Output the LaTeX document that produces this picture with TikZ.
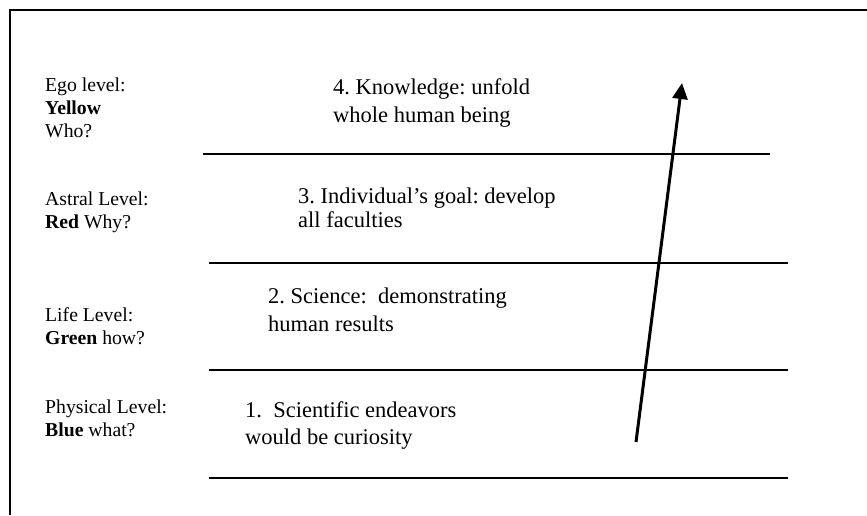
\documentclass[tikz,border=0pt]{standalone}
\usepackage{fontspec}
\setmainfont{Liberation Serif}
\usetikzlibrary{arrows.meta}
\frenchspacing
\begin{document}
\begin{tikzpicture}[x=1pt,y=-1pt,
  levellabel/.style={anchor=base west,inner sep=0pt,align=left,
    font=\fontsize{19.7}{22.7}\selectfont},
  stagetext/.style={anchor=base west,inner sep=0pt,align=left,
    font=\fontsize{22.5}{28}\selectfont},
  divider/.style={line width=2pt},
  frameline/.style={line width=2pt},
  growth/.style={line width=3pt,-{Triangle[length=16pt,width=15pt]}}]
  \useasboundingbox (0,0) rectangle (867,515);

  % open frame: top and left edges
  \draw[frameline] (10,515) -- (10,10) -- (867,10);

  % dividers between levels
  \draw[divider] (203,154) -- (770,154);
  \draw[divider] (209,263) -- (788,263);
  \draw[divider] (209,370) -- (788,370);
  \draw[divider] (209,478) -- (788,478);

  % level labels (anchored at the baseline of their last line)
  \node[levellabel] (ego) at (45,137) {Ego level:\\\textbf{Yellow}\\Who?};
  \node[levellabel] (astral) at (45,228) {Astral Level:\\\textbf{Red} Why?};
  \node[levellabel] (life) at (45,344) {Life Level:\\\textbf{Green} how?};
  \node[levellabel] (physical) at (45,436) {Physical Level:\\\textbf{Blue} what?};

  % stage descriptions
  \node[stagetext] (knowledge) at (333,122) {4. Knowledge: unfold\\whole human being};
  \node[stagetext,font=\fontsize{22.5}{24}\selectfont] (goal) at (298,227) {3. Individual’s goal: develop\\all faculties};
  \node[stagetext] (science) at (268,331) {2. Science:\ \ demonstrating\\human results};
  \node[stagetext,font=\fontsize{22.5}{27}\selectfont] (curiosity) at (245,444) {1.\ \ Scientific endeavors\\would be curiosity};

  % upward arrow across the levels
  \coordinate (arrowstart) at (636,442);
  \coordinate (arrowend) at (682,83);
  \draw[growth] (arrowstart) -- (arrowend);
\end{tikzpicture}
\end{document}
